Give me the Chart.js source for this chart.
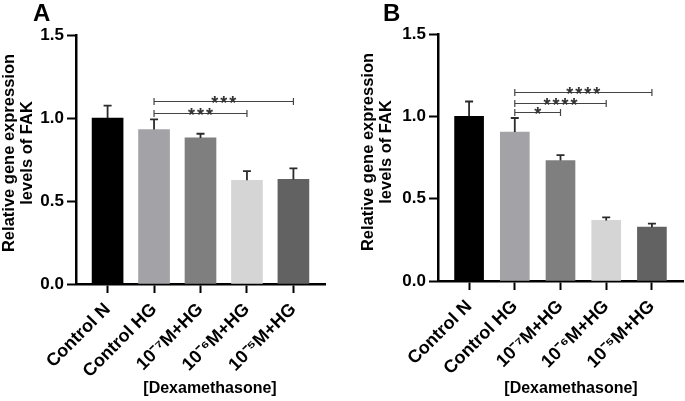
<!DOCTYPE html>
<html>
<head>
<meta charset="utf-8">
<script src="https://cdn.jsdelivr.net/npm/chart.js@4.4.0/dist/chart.umd.min.js"></script>
<style>
  body { margin: 0; background: #fff; }
  .panel { position: absolute; top: 0; height: 401px; }
  #panelA { left: 0; width: 342px; }
  #panelB { left: 342px; width: 343px; }
</style>
</head>
<body>
<div class="panel" id="panelA"><canvas id="chartA"></canvas></div>
<div class="panel" id="panelB"><canvas id="chartB"></canvas></div>
<script>
const categories = ["Control N", "Control HG", "10⁻⁷M+HG", "10⁻⁶M+HG", "10⁻⁵M+HG"];
const meanA = [1.0, 0.93, 0.88, 0.625, 0.63];
const semA = [0.075, 0.062, 0.025, 0.055, 0.067];
const meanB = [1.0, 0.905, 0.732, 0.368, 0.327];
const semB = [0.09, 0.085, 0.032, 0.018, 0.022];
const barColors = ["#000000", "#a3a3a7", "#7f7f7f", "#d5d5d5", "#626262"];
// comparisons: [from bar, to bar, bracket height, stars]
const compareA = [[1, 4, 1.104, "***"], [1, 3, 1.03, "***"]];
const compareB = [[1, 4, 1.145, "****"], [1, 3, 1.08, "****"], [1, 2, 1.026, "*"]];
const yTitle = ["Relative gene expression", "levels of FAK"];
const xTitle = "[Dexamethasone]";

const FONT = "Arial, 'Liberation Sans', sans-serif";

// upper error bars (GraphPad style)
const errorBars = {
  id: "errorBars",
  afterDatasetsDraw(chart) {
    const ctx = chart.ctx;
    const y = chart.scales.y;
    const ds = chart.data.datasets[0];
    const meta = chart.getDatasetMeta(0);
    ctx.save();
    ctx.strokeStyle = "#2b2b2b";
    ctx.lineWidth = 1.8;
    meta.data.forEach((bar, i) => {
      const top = y.getPixelForValue(ds.data[i].y + ds.sem[i]);
      ctx.beginPath();
      ctx.moveTo(bar.x, bar.y);
      ctx.lineTo(bar.x, top);
      ctx.moveTo(bar.x - 4, top);
      ctx.lineTo(bar.x + 4, top);
      ctx.stroke();
    });
    ctx.restore();
  }
};

// letters, axis titles, significance brackets
const decorations = {
  id: "decorations",
  afterDraw(chart, args, opts) {
    const ctx = chart.ctx;
    const x = chart.scales.x;
    const y = chart.scales.y;
    ctx.save();
    ctx.fillStyle = "#000";
    ctx.font = "bold 24px " + FONT;
    ctx.textAlign = "left";
    ctx.textBaseline = "alphabetic";
    ctx.fillText(opts.letter, opts.letterX, 21);

    // y title, two lines rotated
    ctx.font = "bold 16.5px " + FONT;
    ctx.textAlign = "center";
    ctx.textBaseline = "middle";
    yTitle.forEach((line, k) => {
      ctx.save();
      ctx.translate(opts.yTitleX + k * 18, opts.yTitleY);
      ctx.rotate(-Math.PI / 2);
      ctx.fillText(line, 0, 0);
      ctx.restore();
    });

    // x title
    ctx.font = "bold 16px " + FONT;
    ctx.fillText(xTitle, opts.xTitleX, 389);

    // brackets
    ctx.strokeStyle = "#444";
    ctx.fillStyle = "#333";
    ctx.lineWidth = 1.2;
    opts.compare.forEach(([a, b, h, stars]) => {
      const x1 = x.getPixelForValue(a + 1);
      const x2 = x.getPixelForValue(b + 1);
      const yy = Math.round(y.getPixelForValue(h)) + 0.5;
      ctx.beginPath();
      ctx.moveTo(x1, yy); ctx.lineTo(x2, yy);
      ctx.moveTo(x1, yy - 3.5); ctx.lineTo(x1, yy + 3.5);
      ctx.moveTo(x2, yy - 3.5); ctx.lineTo(x2, yy + 3.5);
      ctx.stroke();
      ctx.font = "bold 18px " + FONT;
      ctx.textBaseline = "alphabetic";
      const mid = (x1 + x2) / 2;
      const n = stars.length;
      for (let s = 0; s < n; s++) {
        ctx.fillText(stars[s], mid + (s - (n - 1) / 2) * 9, yy + 7);
      }
    });
    ctx.restore();
  }
};

function makeChart(id, means, sems, opts) {
  const ctx = document.getElementById(id).getContext("2d");
  return new Chart(ctx, {
    type: "bar",
    data: {
      datasets: [
        {
          data: means.map((v, i) => ({ x: i + 1, y: v })),
          sem: sems,
          backgroundColor: barColors,
          borderWidth: 0,
          barThickness: opts.barWidth,
        },
      ],
    },
    options: {
      responsive: true,
      maintainAspectRatio: false,
      animation: false,
      layout: { padding: { top: opts.top, right: opts.right, bottom: 0, left: 0 } },
      plugins: {
        legend: { display: false },
        tooltip: { enabled: false },
        decorations: opts,
      },
      scales: {
        x: {
          type: "linear",
          offset: false,
          min: 0.32,
          max: 5.68,
          afterBuildTicks: (s) => {
            s.ticks = categories.map((c, i) => ({ value: i + 1 }));
          },
          afterFit: (s) => { s.height = opts.xHeight; },
          ticks: {
            callback: (v) => categories[v - 1],
            minRotation: 45,
            maxRotation: 45,
            autoSkip: false,
            color: "#000",
            padding: 6,
            font: { family: FONT, weight: "bold", size: 18 },
          },
          grid: { drawOnChartArea: false, offset: false, tickLength: 9, tickWidth: 2, tickColor: "#000" },
          border: { color: "#000", width: 2.5 },
        },
        y: {
          min: 0,
          max: 1.5,
          afterFit: (s) => { s.width = opts.yWidth; },
          ticks: {
            stepSize: 0.5,
            callback: (v) => v.toFixed(1),
            color: "#000",
            padding: 3,
            font: { family: FONT, weight: "bold", size: 17 },
          },
          grid: { drawOnChartArea: false, tickLength: 9, tickWidth: 2, tickColor: "#000" },
          border: { color: "#000", width: 2.5 },
        },
      },
    },
    plugins: [errorBars, decorations],
  });
}

makeChart("chartA", meanA, semA, {
  letter: "A", letterX: 33, yTitleX: 9, yTitleY: 153, xTitleX: 210,
  compare: compareA, barWidth: 31, top: 35, right: 17, yWidth: 76, xHeight: 117,
});
makeChart("chartB", meanB, semB, {
  letter: "B", letterX: 41, yTitleX: 26, yTitleY: 152, xTitleX: 229,
  compare: compareB, barWidth: 29, top: 34, right: 2, yWidth: 96, xHeight: 120,
});
</script>
</body>
</html>
